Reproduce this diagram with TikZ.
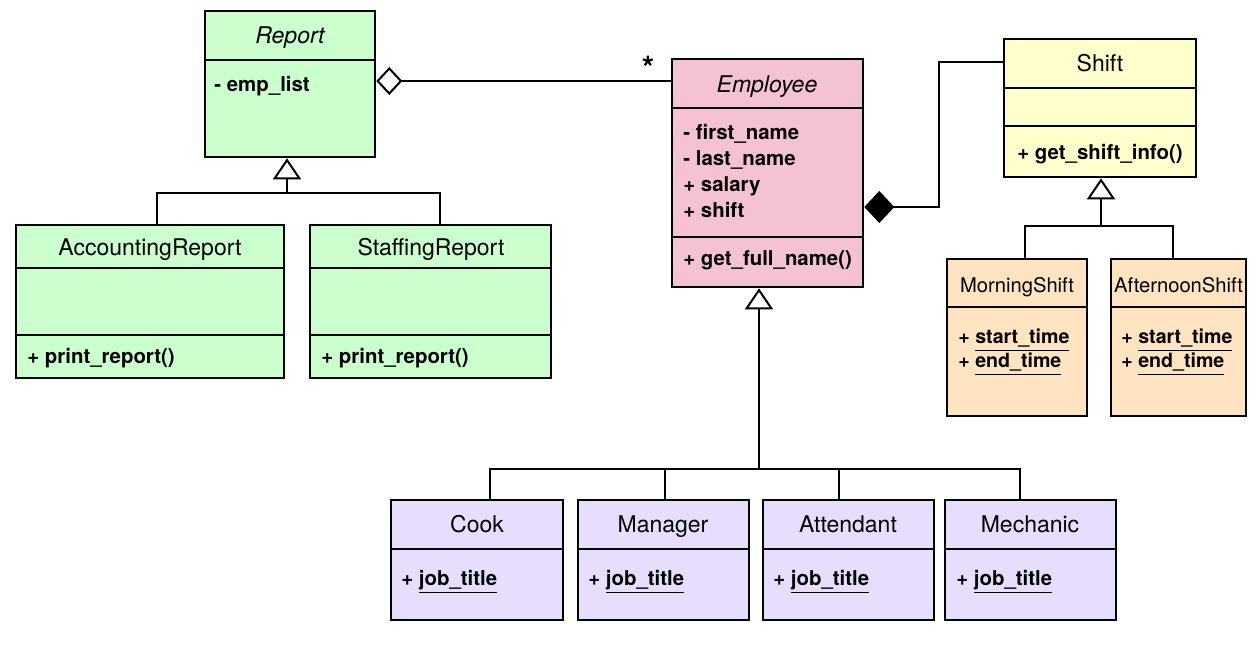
\documentclass[tikz,border=0pt]{standalone}
\usepackage{fontspec}
\setmainfont{TeX Gyre Heros}
\usetikzlibrary{arrows.meta, fit}
\definecolor{reportgreen}{RGB}{204,255,206}
\definecolor{employeepink}{RGB}{244,194,210}
\definecolor{shiftyellow}{RGB}{255,255,206}
\definecolor{timeorange}{RGB}{254,228,192}
\definecolor{jobpurple}{RGB}{230,222,252}
\newcommand{\titlefont}{\fontsize{11.5}{14}\selectfont}
\newcommand{\subtitlefont}{\fontsize{10.1}{12}\selectfont}
\newcommand{\memberfont}{\fontsize{10.2}{13}\selectfont\bfseries}
\newcommand{\timefont}{\fontsize{9.8}{11.5}\selectfont\bfseries}

\begin{document}
\begin{tikzpicture}[x=0.5pt, y=-0.5pt,
	classbox/.style={draw, line width=1.3pt, inner sep=0pt},
	divider/.style={line width=1.3pt},
	classname/.style={font=\titlefont, inner sep=0pt, text height=8.2pt, text depth=0.6pt},
	member/.style={font=\memberfont, anchor=west, inner sep=0pt, text height=7.6pt, text depth=2.2pt},
	link/.style={line width=1pt},
	inherit/.style={link, -{Triangle[open, length=10.5pt, width=14pt]}}]
\useasboundingbox[fill=white] (0,0) rectangle (1258,645);

% report classes
\node[classbox, fill=reportgreen, fit={(205,11) (375,157)}] (report) {};
\draw[divider] (report.west |- 0,60) -- (report.east |- 0,60);
\node[classname] (report-name) at (290,36) {\itshape Report};
\node[member] (report-attr) at (214,86) {- emp\_list};

\node[classbox, fill=reportgreen, fit={(16,225) (284,378)}] (accounting) {};
\draw[divider] (accounting.west |- 0,268) -- (accounting.east |- 0,268);
\draw[divider] (accounting.west |- 0,335) -- (accounting.east |- 0,335);
\node[classname] (accounting-name) at (150,248) {AccountingReport};
\node[member] (accounting-op) at (27,358) {+ print\_report()};

\node[classbox, fill=reportgreen, fit={(310,225) (551,378)}] (staffing) {};
\draw[divider] (staffing.west |- 0,268) -- (staffing.east |- 0,268);
\draw[divider] (staffing.west |- 0,335) -- (staffing.east |- 0,335);
\node[classname] (staffing-name) at (431,248) {StaffingReport};
\node[member] (staffing-op) at (321,358) {+ print\_report()};

% employee
\node[classbox, fill=employeepink, fit={(672,59) (863,287)}] (employee) {};
\draw[divider] (employee.west |- 0,108) -- (employee.east |- 0,108);
\draw[divider] (employee.west |- 0,237) -- (employee.east |- 0,237);
\node[classname] (employee-name) at (767,85) {\itshape Employee};
\node[member] (employee-first) at (683,134) {- first\_name};
\node[member] (employee-last) at (683,160) {- last\_name};
\node[member] (employee-salary) at (683,186) {+ salary};
\node[member] (employee-shift) at (683,212) {+ shift};
\node[member] (employee-op) at (683,260) {+ get\_full\_name()};

% shift classes
\node[classbox, fill=shiftyellow, fit={(1004,39) (1196,177)}] (shift) {};
\draw[divider] (shift.west |- 0,88) -- (shift.east |- 0,88);
\draw[divider] (shift.west |- 0,126) -- (shift.east |- 0,126);
\node[classname] (shift-name) at (1100,64) {Shift};
\node[member] (shift-op) at (1017,154) {+ get\_shift\_info()};

\node[classbox, fill=timeorange, fit={(947,259) (1087,416)}] (morning) {};
\draw[divider] (morning.west |- 0,307) -- (morning.east |- 0,307);
\node[classname, font=\subtitlefont] (morning-name) at (1017,285) {MorningShift};
\node[member, font=\timefont] (morning-start) at (958,338) {+ \underline{start\_time}};
\node[member, font=\timefont] (morning-end) at (958,362) {+ \underline{end\_time}};

\node[classbox, fill=timeorange, fit={(1111,259) (1246,416)}] (afternoon) {};
\draw[divider] (afternoon.west |- 0,307) -- (afternoon.east |- 0,307);
\node[classname, font=\subtitlefont] (afternoon-name) at (1178.5,285) {AfternoonShift};
\node[member, font=\timefont] (afternoon-start) at (1121,338) {+ \underline{start\_time}};
\node[member, font=\timefont] (afternoon-end) at (1121,362) {+ \underline{end\_time}};

% job classes
\node[classbox, fill=jobpurple, fit={(391,500) (563,620)}] (cook) {};
\draw[divider] (cook.west |- 0,549) -- (cook.east |- 0,549);
\node[classname] (cook-name) at (477,525) {Cook};
\node[member] (cook-attr) at (401,580) {+ \underline{job\_title}};

\node[classbox, fill=jobpurple, fit={(578,500) (749,620)}] (manager) {};
\draw[divider] (manager.west |- 0,549) -- (manager.east |- 0,549);
\node[classname] (manager-name) at (663,525) {Manager};
\node[member] (manager-attr) at (588,580) {+ \underline{job\_title}};

\node[classbox, fill=jobpurple, fit={(763,500) (934,620)}] (attendant) {};
\draw[divider] (attendant.west |- 0,549) -- (attendant.east |- 0,549);
\node[classname] (attendant-name) at (848,525) {Attendant};
\node[member] (attendant-attr) at (773,580) {+ \underline{job\_title}};

\node[classbox, fill=jobpurple, fit={(945,500) (1116,620)}] (mechanic) {};
\draw[divider] (mechanic.west |- 0,549) -- (mechanic.east |- 0,549);
\node[classname] (mechanic-name) at (1030,525) {Mechanic};
\node[member] (mechanic-attr) at (956,580) {+ \underline{job\_title}};

% aggregation and composition
\draw[link, {Diamond[open, length=13pt, width=14pt]}-] (report.east |- 0,81) -- (employee.west |- 0,81);
\node[font=\fontsize{16}{16}\selectfont\bfseries, inner sep=0pt] (many) at (648,68) {*};
\coordinate (shift-bend) at (939,207);
\draw[link, {Diamond[length=15pt, width=16pt]}-] (employee.east |- shift-bend) -- (shift-bend) |- (shift.west |- 0,62);

% generalisations
\coordinate (report-join) at (287,193);
\draw[inherit] (report-join) -- (report-join |- report.south);
\draw[link] (accounting.north -| 157,0) |- (report-join) -| (staffing.north -| 440,0);

\coordinate (shift-join) at (1101,226);
\draw[inherit] (shift-join) -- (shift-join |- shift.south);
\draw[link] (morning.north -| 1025,0) |- (shift-join) -| (afternoon.north -| 1173,0);

\coordinate (job-join) at (759,469);
\draw[inherit] (job-join) -- (job-join |- employee.south);
\draw[link] (cook.north -| 490,0) |- (job-join) -| (mechanic.north -| 1020,0);
\draw[link] (manager.north -| 665,0) -- (job-join -| 665,0);
\draw[link] (attendant.north -| 839,0) -- (job-join -| 839,0);
\end{tikzpicture}
\end{document}
